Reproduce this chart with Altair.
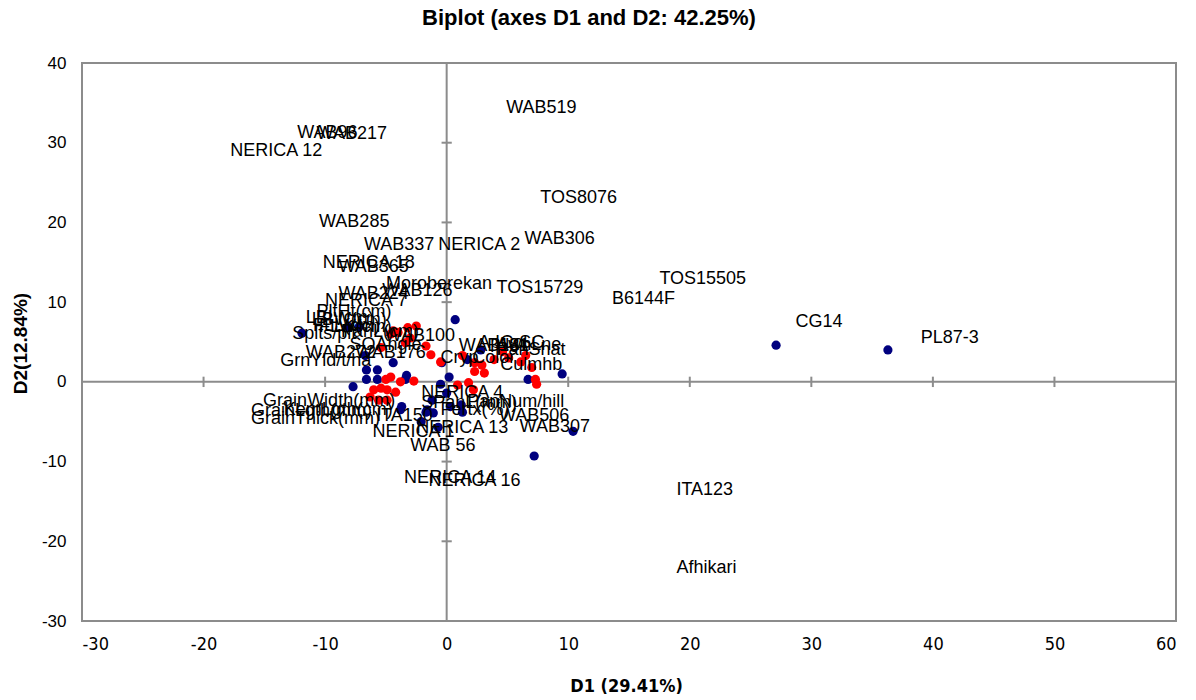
import altair as alt
import pandas as pd

# Observation scores (blue) on D1 / D2
obs_x = [-11.9, -8.1, -7.2, 0.7, -6.7, -6.6, -5.7, -4.4, -3.3, -3.4, -7.7, -6.6,
         -5.7, -0.4, 0.2, -0.5, 0.0, -1.1, -1.6, -0.7, -2.1, 1.2, -3.7, -3.8,
         -1.2, -1.7, 0.3, 1.3, 6.7, 9.5, 10.4, 7.2, 27.1, 36.3, 1.7, 2.8]
obs_y = [6.1, 6.9, 6.9, 7.8, 3.3, 1.5, 1.5, 2.4, 0.8, 0.3, -0.6, 0.3,
         0.3, 2.4, 0.6, -0.3, -1.4, -3.9, -3.5, -5.7, -5.0, -2.9, -3.1, -3.5,
         -2.3, -3.8, -3.1, -3.8, 0.3, 1.0, -6.2, -9.3, 4.6, 4.0, 2.8, 4.0]

# Variable coordinates (red) on D1 / D2
var_x = [-4.6, -4.0, -3.2, -2.5, -5.4, -3.4, -1.7, -0.5, -4.6, -5.0, -3.8, -5.4,
         -6.0, -4.9, -4.2, -6.3, -5.6, -4.9, -2.7, 2.3, 2.9, 2.3, 3.1, 0.9,
         1.8, 2.2, 3.9, 5.1, 6.1, 7.0, 7.3, 7.4, 6.5, 4.6, -4.4, -3.0, -1.3, 1.3]
var_y = [6.0, 6.2, 6.8, 7.0, 4.3, 4.9, 4.5, 2.5, 0.6, 0.3, 0.0, -0.8,
         -1.0, -1.0, -1.3, -1.9, -2.3, -2.3, 0.1, 2.4, 2.1, 1.3, 1.1, -0.4,
         -0.1, -1.0, 2.8, 3.0, 2.5, 1.8, 0.3, -0.3, 3.3, 3.8, 6.4, 5.5, 3.4, 3.3]

# Point labels: text and anchor (left edge, vertical middle)
label_text = ["WAB519", "WAB96", "WAB217", "NERICA 12", "TOS8076", "WAB285",
              "WAB337", "NERICA 2", "WAB306", "NERICA 18", "WAB365", "Moroberekan",
              "WAB126", "TOS15729", "TOS15505", "B6144F", "CG14", "PL87-3",
              "WAB224", "NERICA 7", "PltHt(cm)", "LBL(cm)", "LBW(cm)", "FLL(cm)",
              "FLW(cm)", "Splts/plt", "PanL(cm)", "SOAngle", "WAB100", "WAB272",
              "WAB176", "GrnYld/t/ha", "WAB181", "ApCol", "LigSC", "AwnLne",
              "PanShat", "Cryp", "Color", "Culmhb", "NERICA 4", "SPanL(mm)",
              "PanNum/hill", "Fertx(%)", "WAB506", "WAB307", "NERICA 13", "NERICA 1",
              "ITA150", "WAB 56", "NERICA 14", "NERICA 16", "ITA123", "Afhikari",
              "GrainWidth(mm)", "GrainLgth(mm)", "KernLgth(cm)", "GrainThick(mm)"]
label_x = [4.9, -12.3, -10.7, -17.8, 7.7, -10.5,
           -6.8, -0.7, 6.4, -10.2, -8.9, -5.0,
           -5.3, 4.1, 17.5, 13.6, 28.7, 39.0,
           -8.9, -10.0, -10.7, -11.6, -11.1, -11.0,
           -10.5, -12.7, -8.7, -8.0, -5.1, -11.6,
           -7.5, -13.7, 1.0, 2.6, 4.0, 4.1,
           4.1, -0.5, 2.1, 4.4, -2.1, -2.1,
           1.7, -0.5, 4.3, 6.0, -2.5, -6.1,
           -5.8, -3.0, -3.5, -1.5, 18.9, 18.9,
           -15.1, -16.1, -13.4, -16.1]
label_y = [34.4, 31.2, 31.1, 29.0, 23.1, 20.1,
           17.2, 17.2, 17.9, 14.9, 14.4, 12.3,
           11.4, 11.8, 12.9, 10.4, 7.5, 5.5,
           11.0, 10.2, 8.8, 8.0, 7.8, 7.0,
           6.9, 6.0, 6.2, 4.6, 5.7, 3.6,
           3.6, 2.6, 4.5, 4.9, 4.9, 4.6,
           4.0, 3.0, 3.0, 2.1, -1.4, -2.6,
           -2.5, -3.5, -4.3, -5.7, -5.8, -6.3,
           -4.3, -8.0, -12.1, -12.4, -13.6, -23.3,
           -2.4, -3.6, -3.5, -4.6]

tick_x = [-20, -10, 10, 20, 30, 40, 50]
tick_y = [-20, -10, 10, 20, 30]

X_DOMAIN = [-30, 60]
Y_DOMAIN = [-30, 40]
W, H = 1094, 558
FONT = "Liberation Sans"
NARROW = "Liberation Sans Narrow, DejaVu Sans Condensed, Liberation Sans"
GRAY = "#8c8c8c"

points = pd.concat([
    pd.DataFrame({"x": obs_x, "y": obs_y, "kind": "obs"}),
    pd.DataFrame({"x": var_x, "y": var_y, "kind": "var"}),
], ignore_index=True)
labels = pd.DataFrame({"x": label_x, "y": label_y, "text": label_text})
xt = pd.DataFrame({"x": tick_x})
yt = pd.DataFrame({"y": tick_y})

xs = alt.Scale(domain=X_DOMAIN, nice=False, zero=False)
ys = alt.Scale(domain=Y_DOMAIN, nice=False, zero=False)

# plain hyphen for negative tick labels
plain_label = "'' + datum.value"

x_axis = alt.Axis(values=list(range(-30, 61, 10)), title="D1 (29.41%)", grid=False,
                  ticks=False, domain=False, labelFont=NARROW, labelFontSize=18,
                  labelColor="#000000", labelPadding=14, labelExpr=plain_label,
                  titleFont=NARROW, titleFontSize=18, titleFontWeight="bold",
                  titleColor="#000000", titleX=544, titleY=65,
                  titleBaseline="middle", titleAlign="center")
y_axis = alt.Axis(values=list(range(-30, 41, 10)), title="D2(12.84%)", grid=False,
                  ticks=False, domain=False, labelFont=FONT, labelFontSize=17,
                  labelColor="#000000", labelPadding=16, labelExpr=plain_label,
                  titleFont=FONT, titleFontSize=19, titleFontWeight="bold",
                  titleColor="#000000", titleX=-62, titleY=280, titleAngle=270,
                  titleAlign="center", titleBaseline="middle")

base_pts = alt.Chart(points).mark_circle(size=85, opacity=1).encode(
    x=alt.X("x:Q", scale=xs, axis=x_axis),
    y=alt.Y("y:Q", scale=ys, axis=y_axis),
    color=alt.Color("kind:N", scale=alt.Scale(domain=["obs", "var"],
                                              range=["#00007f", "#ff0000"]),
                    legend=None),
    order=alt.Order("kind:N", sort="ascending"),
)

zero_v = alt.Chart(pd.DataFrame({"x": [0]})).mark_rule(color=GRAY, strokeWidth=2).encode(
    x=alt.X("x:Q", scale=xs))
zero_h = alt.Chart(pd.DataFrame({"y": [0]})).mark_rule(color=GRAY, strokeWidth=2).encode(
    y=alt.Y("y:Q", scale=ys))

ticks_on_x = alt.Chart(xt).mark_rule(color=GRAY, strokeWidth=2).encode(
    x=alt.X("x:Q", scale=xs), y=alt.datum(-0.65), y2=alt.datum(0.65))
ticks_on_y = alt.Chart(yt).mark_rule(color=GRAY, strokeWidth=2).encode(
    y=alt.Y("y:Q", scale=ys), x=alt.datum(-0.42), x2=alt.datum(0.42))

text = alt.Chart(labels).mark_text(align="left", baseline="middle", font=FONT,
                                   fontSize=18, color="#000000").encode(
    x=alt.X("x:Q", scale=xs), y=alt.Y("y:Q", scale=ys), text="text:N")

title = alt.Chart(pd.DataFrame({"t": ["Biplot (axes D1 and D2: 42.25%)"]})).mark_text(
    font=FONT, fontSize=22, fontWeight="bold", align="center", baseline="middle",
    color="#000000").encode(x=alt.value(507), y=alt.value(-45), text="t:N")

chart = alt.layer(zero_v, zero_h, ticks_on_x, ticks_on_y, base_pts, text, title).properties(
    width=W, height=H,
    autosize=alt.AutoSizeParams(type="none"),
    padding={"left": 82, "top": 63, "right": 20, "bottom": 79},
    background="#ffffff",
).configure_view(stroke=GRAY, strokeWidth=2)

chart.save("out.html", embed_options={"renderer": "svg", "actions": False})
